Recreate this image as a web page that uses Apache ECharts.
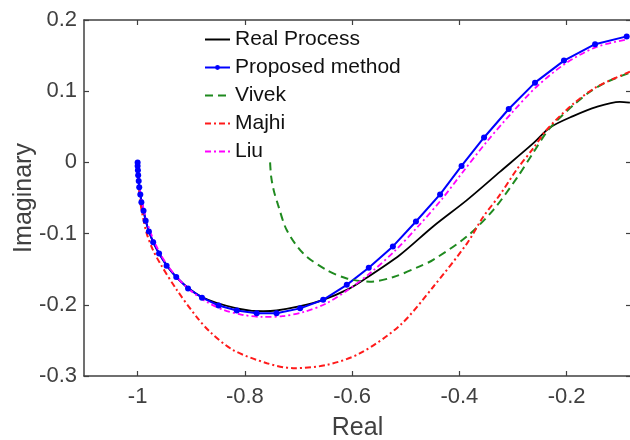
<!DOCTYPE html>
<html>
<head>
<meta charset="utf-8">
<script src="https://cdn.jsdelivr.net/npm/echarts@6/dist/echarts.min.js"></script>
<style>
html,body{margin:0;padding:0;background:#fff;}
#chart{width:630px;height:440px;}
</style>
</head>
<body>
<div id="chart"></div>
<script>
// ---- data ----
const xTicks = [-1, -0.8, -0.6, -0.4, -0.2];
const yTicks = [-0.3, -0.2, -0.1, 0, 0.1, 0.2];

const seriesNames = ['Real Process', 'Proposed method', 'Vivek', 'Majhi', 'Liu'];

const realX = [-1.0, -0.9995, -0.998, -0.995, -0.989, -0.979, -0.96, -0.928, -0.88, -0.815, -0.766, -0.741, -0.697, -0.654, -0.610, -0.579, -0.511, -0.449, -0.386, -0.324, -0.262, -0.231, -0.188, -0.144, -0.101, -0.082];
const realY = [0.0, -0.011, -0.026, -0.045, -0.068, -0.097, -0.128, -0.161, -0.189, -0.205, -0.209, -0.208, -0.202, -0.193, -0.179, -0.165, -0.130, -0.090, -0.053, -0.013, 0.027, 0.049, 0.065, 0.078, 0.085, 0.084];

const propX = [-1.0, -1.0, -0.9995, -0.999, -0.998, -0.997, -0.995, -0.993, -0.989, -0.985, -0.979, -0.971, -0.96, -0.946, -0.928, -0.906, -0.88, -0.849, -0.815, -0.778, -0.741, -0.697, -0.654, -0.610, -0.569, -0.524, -0.481, -0.436, -0.396, -0.354, -0.308, -0.259, -0.205, -0.147, -0.088];
const propY = [0.0, -0.005, -0.011, -0.018, -0.026, -0.035, -0.045, -0.056, -0.068, -0.082, -0.097, -0.112, -0.128, -0.145, -0.161, -0.177, -0.190, -0.201, -0.208, -0.212, -0.212, -0.205, -0.193, -0.172, -0.148, -0.118, -0.083, -0.045, -0.005, 0.035, 0.075, 0.112, 0.143, 0.166, 0.177];

const vivekX = [-0.753, -0.751, -0.746, -0.738, -0.722, -0.691, -0.648, -0.610, -0.567, -0.523, -0.474, -0.449, -0.386, -0.337, -0.293, -0.262, -0.237, -0.219, -0.188, -0.157, -0.125, -0.082];
const vivekY = [0.0, -0.02, -0.04, -0.06, -0.095, -0.128, -0.151, -0.163, -0.1675, -0.161, -0.146, -0.137, -0.104, -0.067, -0.022, 0.014, 0.043, 0.058, 0.080, 0.099, 0.113, 0.126];

const majhiX = [-1.0, -0.9995, -0.998, -0.9956, -0.990, -0.983, -0.972, -0.958, -0.927, -0.890, -0.865, -0.822, -0.759, -0.710, -0.648, -0.585, -0.511, -0.449, -0.386, -0.356, -0.324, -0.293, -0.262, -0.237, -0.188, -0.144, -0.082];
const majhiY = [0.0, -0.012, -0.030, -0.053, -0.077, -0.100, -0.122, -0.142, -0.179, -0.217, -0.238, -0.2635, -0.282, -0.289, -0.2846, -0.268, -0.229, -0.175, -0.114, -0.077, -0.045, -0.010, 0.020, 0.046, 0.082, 0.106, 0.1274];

const liuX = [-1.0, -1.0, -0.9995, -0.999, -0.998, -0.996, -0.994, -0.991, -0.987, -0.982, -0.975, -0.966, -0.955, -0.94, -0.921, -0.898, -0.871, -0.84, -0.805, -0.768, -0.73, -0.69, -0.648, -0.606, -0.564, -0.52, -0.476, -0.432, -0.391, -0.349, -0.303, -0.255, -0.202, -0.145, -0.086];
const liuY = [0.0, -0.005, -0.011, -0.018, -0.026, -0.036, -0.046, -0.058, -0.071, -0.085, -0.100, -0.116, -0.132, -0.149, -0.166, -0.182, -0.196, -0.207, -0.214, -0.217, -0.216, -0.210, -0.198, -0.178, -0.154, -0.124, -0.089, -0.051, -0.011, 0.029, 0.069, 0.107, 0.139, 0.162, 0.173];

// ---- chart ----
const pairs = (xs, ys) => xs.map((x, i) => [x, ys[i]]);
const FONT = '"Liberation Sans", Arial, Helvetica, sans-serif';
const AX = '#404040';
const HIDDEN = {color: 'rgba(0,0,0,0)', borderWidth: 0, opacity: 0};

const chart = echarts.init(document.getElementById('chart'), null, {renderer: 'canvas'});

const axisBase = (extra) => Object.assign({
  type: 'value',
  axisLine: {show: true, onZero: false, lineStyle: {color: AX, width: 1.5}},
  splitLine: {show: false},
}, extra);
const tick = (vals) => ({show: true, inside: true, length: 5, customValues: vals, lineStyle: {color: AX, width: 1.2}});

const option = {
  animation: false,
  backgroundColor: '#ffffff',
  grid: {left: 84, top: 20, right: -1, bottom: 64, containLabel: false, outerBoundsMode: 'none'},
  legend: {
    orient: 'vertical',
    left: 204,
    top: 29,
    padding: 0,
    itemWidth: 25,
    itemHeight: 6,
    itemGap: 7,
    textStyle: {fontFamily: FONT, fontSize: 21, color: '#111', lineHeight: 18},
    data: [
      {name: seriesNames[0], itemStyle: HIDDEN},
      {name: seriesNames[1]},
      {name: seriesNames[2], itemStyle: HIDDEN},
      {name: seriesNames[3], itemStyle: HIDDEN},
      {name: seriesNames[4], itemStyle: HIDDEN}
    ]
  },
  xAxis: [
    axisBase({
      position: 'bottom', min: -1.1, max: -0.08,
      name: 'Real', nameLocation: 'middle', nameGap: 40, nameMoveOverlap: false,
      nameTextStyle: {fontFamily: FONT, fontSize: 25, color: AX},
      axisTick: tick(xTicks),
      axisLabel: {show: true, customValues: xTicks, margin: 10, fontFamily: FONT, fontSize: 22, color: AX}
    }),
    axisBase({
      position: 'top', min: -1.1, max: -0.08,
      axisTick: tick(xTicks),
      axisLabel: {show: false}
    })
  ],
  yAxis: [
    axisBase({
      position: 'left', min: -0.3, max: 0.2,
      name: 'Imaginary', nameLocation: 'middle', nameGap: 47, nameRotate: 90, nameMoveOverlap: false,
      nameTextStyle: {fontFamily: FONT, fontSize: 25, color: AX},
      axisTick: tick(yTicks),
      axisLabel: {show: true, customValues: yTicks, margin: 7, fontFamily: FONT, fontSize: 22, color: AX}
    }),
    axisBase({
      position: 'right', min: -0.3, max: 0.2,
      axisTick: tick(yTicks),
      axisLabel: {show: false}
    })
  ],
  series: [
    {
      name: seriesNames[0], type: 'line', data: pairs(realX, realY), smooth: 0.3,
      symbol: 'none', lineStyle: {color: '#000000', width: 1.8}, itemStyle: {color: '#000000'}
    },
    {
      name: seriesNames[1], type: 'line', data: pairs(propX, propY),
      symbol: 'circle', symbolSize: 6, showSymbol: true,
      lineStyle: {color: '#0000ff', width: 2}, itemStyle: {color: '#0000ff'}
    },
    {
      name: seriesNames[2], type: 'line', data: pairs(vivekX, vivekY), smooth: 0.3,
      symbol: 'none', lineStyle: {color: '#1f8a1f', width: 2, type: [8, 5]}, itemStyle: {color: '#1f8a1f'}
    },
    {
      name: seriesNames[3], type: 'line', data: pairs(majhiX, majhiY), smooth: 0.3,
      symbol: 'none', lineStyle: {color: '#ff1a1a', width: 2, type: [6, 3, 2, 3]}, itemStyle: {color: '#ff1a1a'}
    },
    {
      name: seriesNames[4], type: 'line', data: pairs(liuX, liuY), smooth: 0.3,
      symbol: 'none', lineStyle: {color: '#ff00ff', width: 1.8, type: [6, 3, 2, 3]}, itemStyle: {color: '#ff00ff'}
    }
  ]
};
chart.setOption(option);
</script>
</body>
</html>
